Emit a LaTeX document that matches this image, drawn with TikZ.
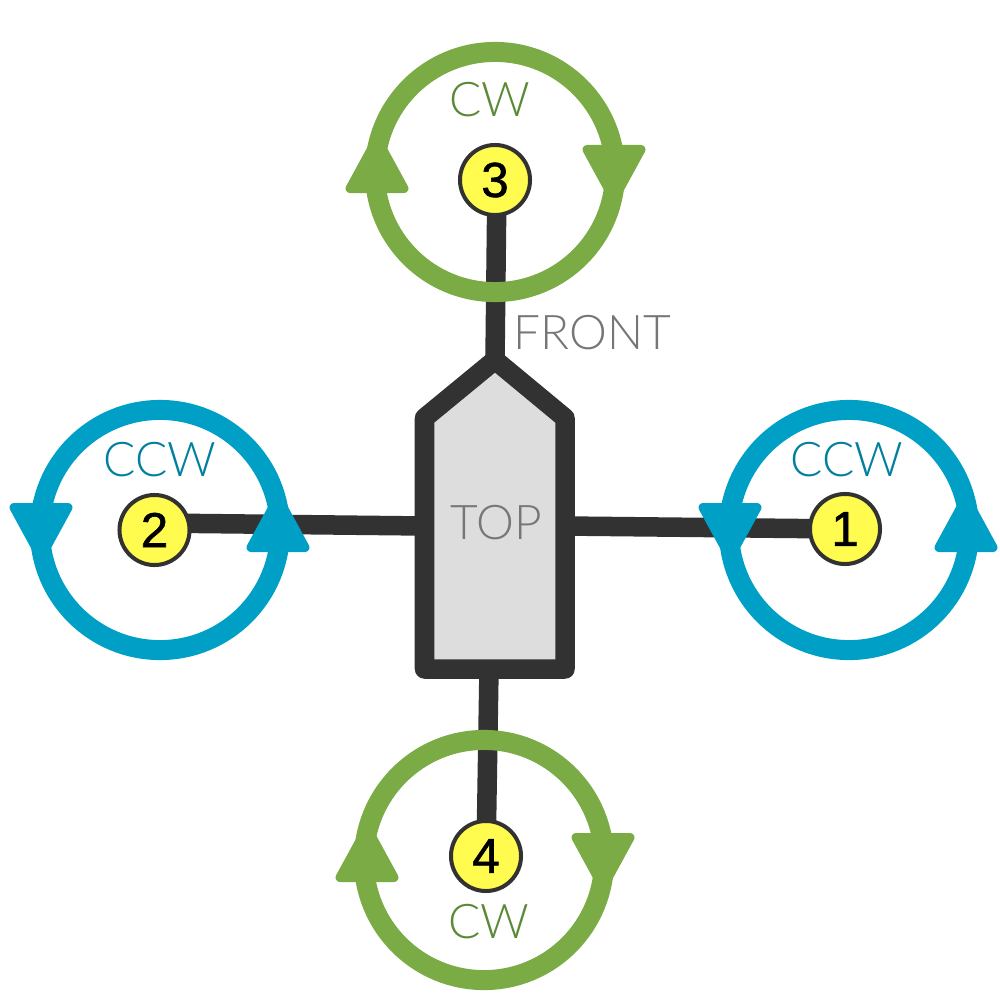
\documentclass[tikz,border=0pt]{standalone}
\usepackage{fontspec}
\setmainfont{Liberation Sans}
\newfontfamily\lightfont{Lato Light}
\newfontfamily\hubfont[FakeBold=1.2]{Liberation Sans}
\usetikzlibrary{backgrounds}
\definecolor{ringgreen}{HTML}{7AAB45}
\definecolor{textgreen}{HTML}{5A8A35}
\definecolor{ringblue}{HTML}{00A0C6}
\definecolor{textblue}{HTML}{007F9F}
\definecolor{armdark}{HTML}{323232}
\definecolor{hubyellow}{HTML}{FFFB4F}
\definecolor{bodygray}{HTML}{DDDDDD}
\definecolor{labelgray}{HTML}{767676}
\tikzset{
  ring/.style={circle,draw,line width=0.2cm,minimum size=2.40cm,inner sep=0pt},
  greenring/.style={ring,draw=ringgreen},
  bluering/.style={ring,draw=ringblue},
  hub/.style={circle,draw=armdark,line width=0.04cm,fill=hubyellow,minimum size=0.70cm,inner sep=0pt,font=\hubfont\fontsize{14}{14}\selectfont,text=black},
  arm/.style={draw=armdark,line width=0.195cm},
  bodyshape/.style={draw=armdark,fill=bodygray,line width=0.195cm,line join=round},
  tipgreen/.style={fill=ringgreen,draw=ringgreen,line width=0.09cm,line join=round},
  tipblue/.style={fill=ringblue,draw=ringblue,line width=0.09cm,line join=round},
  lbl/.style={font=\lightfont\fontsize{13.6}{14}\selectfont,inner sep=0pt},
}
\begin{document}
\begin{tikzpicture}[x=0.01cm,y=-0.01cm]
\useasboundingbox (0,0) rectangle (1000,1000);
% body anchor points
\coordinate (bn) at (495,360);
\coordinate (bne) at (565,418);
\coordinate (bse) at (565,669);
\coordinate (bsw) at (424.5,669);
\coordinate (bnw) at (424.5,418);
\coordinate (bl) at (424.5,526);
\coordinate (br) at (565,526);
\coordinate (bb) at (489,669);
% motors
\node[hub] (m1) at (845,529) {1};
\node[hub] (m2) at (154.5,530) {2};
\node[hub] (m3) at (495,180) {3};
\node[hub] (m4) at (486,856) {4};
% arms
\begin{scope}[on background layer]
\draw[arm] (m1.center) -- (br);
\draw[arm] ([yshift=0.07cm]m2.center) -- (bl);
\draw[arm] ([xshift=0.02cm]m3.center) -- (bn);
\draw[arm] (m4.center) -- (bb);
\end{scope}
% body
\path[bodyshape] (bn) -- (bne) -- (bse) -- (bsw) -- (bnw) -- cycle;
% rings
\node[bluering] (r1) at (849,530) {};
\node[bluering] (r2) at (160,530) {};
\node[greenring] (r3) at (495,172) {};
\node[greenring] (r4) at (484,860) {};
% arrow tips
\path[tipgreen,shift={(377,193)}] (-27,-4.5) -- (27,-4.5) -- (0,-54) -- cycle;
\path[tipgreen,shift={(614,145)},yscale=-1] (-27,-4.5) -- (27,-4.5) -- (0,-54) -- cycle;
\path[tipgreen,shift={(367,882)}] (-27,-4.5) -- (27,-4.5) -- (0,-54) -- cycle;
\path[tipgreen,shift={(603,833)},yscale=-1] (-27,-4.5) -- (27,-4.5) -- (0,-54) -- cycle;
\path[tipblue,shift={(966,552)}] (-27,-4.5) -- (27,-4.5) -- (0,-54) -- cycle;
\path[tipblue,shift={(730,503)},yscale=-1] (-27,-4.5) -- (27,-4.5) -- (0,-54) -- cycle;
\path[tipblue,shift={(278,552)}] (-27,-4.5) -- (27,-4.5) -- (0,-54) -- cycle;
\path[tipblue,shift={(41,503)},yscale=-1] (-27,-4.5) -- (27,-4.5) -- (0,-54) -- cycle;
% labels
\node[lbl,text=textgreen] (t3) at (490,100) {CW};
\node[lbl,text=textgreen] (t4) at (489,922) {CW};
\node[lbl,text=textblue] (t1) at (847,460) {CCW};
\node[lbl,text=textblue] (t2) at (160,460) {CCW};
\node[lbl,text=labelgray] (front) at (592,333) {FRONT};
\node[lbl,text=labelgray] (top) at (496,523) {TOP};
\end{tikzpicture}
\end{document}
